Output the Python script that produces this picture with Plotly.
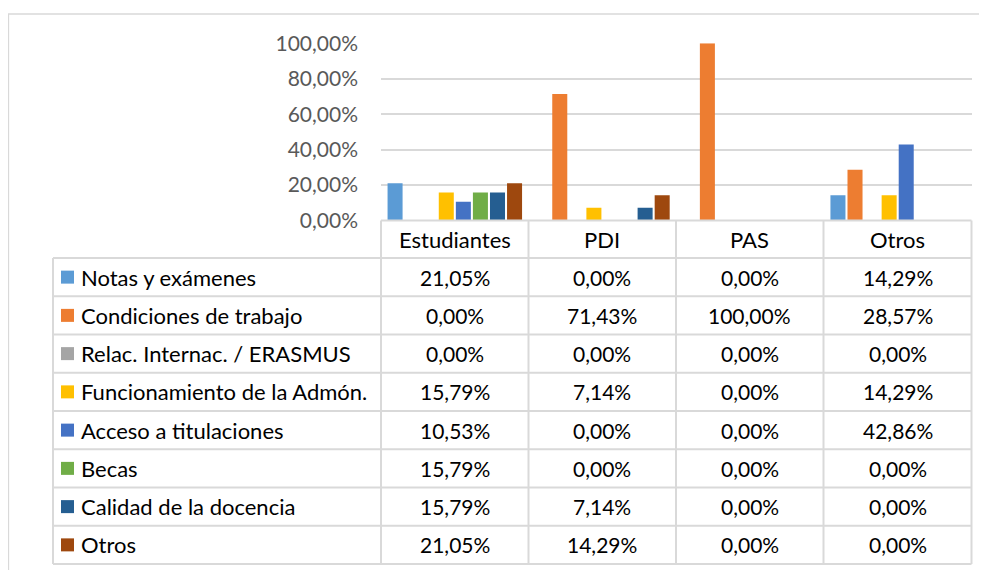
import plotly.graph_objects as go

categories = ["Estudiantes", "PDI", "PAS", "Otros"]
series_names = [
    "Notas y exámenes",
    "Condiciones de trabajo",
    "Relac. Internac. / ERASMUS",
    "Funcionamiento de la Admón.",
    "Acceso a titulaciones",
    "Becas",
    "Calidad de la docencia",
    "Otros",
]
notas = [0.2105, 0.0, 0.0, 0.1429]
condiciones = [0.0, 0.7143, 1.0, 0.2857]
relac = [0.0, 0.0, 0.0, 0.0]
funcionamiento = [0.1579, 0.0714, 0.0, 0.1429]
acceso = [0.1053, 0.0, 0.0, 0.4286]
becas = [0.1579, 0.0, 0.0, 0.0]
calidad = [0.1579, 0.0714, 0.0, 0.0]
otros = [0.2105, 0.1429, 0.0, 0.0]
series_values = [notas, condiciones, relac, funcionamiento, acceso, becas, calidad, otros]
colors = ["#5B9BD5", "#ED7D31", "#A5A5A5", "#FFC000", "#4472C4", "#70AD47", "#255E91", "#9E480E"]
tick_vals = [0, 0.2, 0.4, 0.6, 0.8, 1.0]

W, H = 987, 570
OFF = 8  # page body margin
FONT = "Lato"
GRID = "#D9D9D9"
TXT = 22
NUM = 21


def px(x):
    return (x - OFF) / W


def py(y):
    return 1 - (y - OFF) / H


col_x = [381, 528.5, 676, 823.5, 971.5]
left_x = 53
axis_y = 220.5
top_y = 43.3
row_top = 258
row_h = 38.25

fig = go.Figure()
for name, vals, c in zip(series_names, series_values, colors):
    fig.add_trace(go.Bar(x=categories, y=vals, name=name, marker=dict(color=c, line=dict(width=0))))

shapes = []
# outer chart border
shapes.append(dict(type="rect", xref="paper", yref="paper", x0=px(8.5), x1=px(1010), y0=py(14), y1=py(620),
                   line=dict(color=GRID, width=1.3), layer="below"))
# horizontal table lines
shapes.append(dict(type="line", xref="paper", yref="paper", x0=px(col_x[0]), x1=px(col_x[-1]),
                   y0=py(axis_y), y1=py(axis_y), line=dict(color=GRID, width=2)))
for i in range(len(series_names) + 1):
    y = row_top + i * row_h
    shapes.append(dict(type="line", xref="paper", yref="paper", x0=px(left_x), x1=px(col_x[-1]),
                       y0=py(y), y1=py(y), line=dict(color=GRID, width=2)))
# vertical table lines
for x in col_x:
    shapes.append(dict(type="line", xref="paper", yref="paper", x0=px(x), x1=px(x),
                       y0=py(axis_y), y1=py(row_top + len(series_names) * row_h), line=dict(color=GRID, width=2)))
shapes.append(dict(type="line", xref="paper", yref="paper", x0=px(left_x), x1=px(left_x),
                   y0=py(row_top), y1=py(row_top + len(series_names) * row_h), line=dict(color=GRID, width=2)))

annotations = []
# header
for j, cat in enumerate(categories):
    cx = (col_x[j] + col_x[j + 1]) / 2
    annotations.append(dict(x=px(cx), y=py((axis_y + row_top) / 2), xref="paper", yref="paper",
                            text=cat, showarrow=False, font=dict(family=FONT, size=TXT, color="#000000"),
                            xanchor="center", yanchor="middle"))
for i, (name, vals, c) in enumerate(zip(series_names, series_values, colors)):
    cy = row_top + i * row_h + row_h / 2
    shapes.append(dict(type="rect", xref="paper", yref="paper", x0=px(61), x1=px(74),
                       y0=py(cy - 6.5), y1=py(cy + 6.5), fillcolor=c, line=dict(width=0)))
    annotations.append(dict(x=px(79), y=py(cy), xref="paper", yref="paper", text=name, showarrow=False,
                            font=dict(family=FONT, size=TXT, color="#000000"), xanchor="left", yanchor="middle"))
    for j, v in enumerate(vals):
        cx = (col_x[j] + col_x[j + 1]) / 2
        txt = f"{v * 100:.2f}%".replace(".", ",")
        annotations.append(dict(x=px(cx), y=py(cy), xref="paper", yref="paper", text=txt, showarrow=False,
                                font=dict(family=FONT, size=NUM, color="#000000"), xanchor="center", yanchor="middle"))

fig.update_layout(
    width=W, height=H,
    margin=dict(l=0, r=0, t=0, b=0, autoexpand=False),
    paper_bgcolor="white", plot_bgcolor="white",
    separators=",.",
    barmode="group", bargap=0.075, bargroupgap=0.12,
    showlegend=False,
    shapes=shapes, annotations=annotations,
    xaxis=dict(domain=[px(col_x[0]), px(col_x[-1])], range=[-0.5, 3.5], showticklabels=False,
               showline=False, showgrid=False, zeroline=False, fixedrange=True, automargin=False),
    yaxis=dict(domain=[py(axis_y), py(top_y)], range=[0, 1], tickvals=tick_vals, tickformat=".2%",
               showgrid=True, gridcolor=GRID, gridwidth=2, zeroline=False, showline=False,
               ticks="", ticklabelstandoff=22, automargin=False,
               tickfont=dict(family=FONT, size=NUM, color="#595959")),
)

fig.write_html("out.html")
